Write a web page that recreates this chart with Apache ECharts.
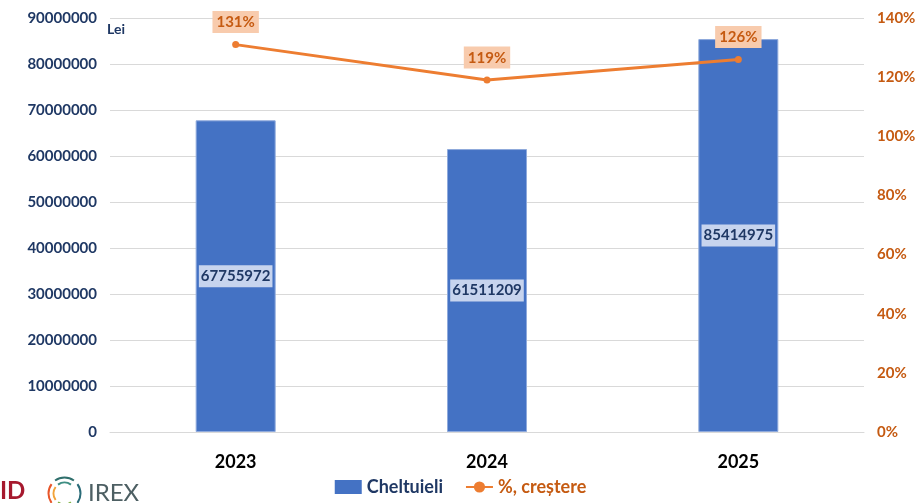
<!DOCTYPE html>
<html>
<head>
<meta charset="utf-8">
<script src="https://cdn.jsdelivr.net/npm/echarts@6/dist/echarts.min.js"></script>
<style>
  html, body { margin: 0; padding: 0; background: #fff; }
  #chart { width: 921px; height: 503px; }
</style>
</head>
<body>
<div id="chart"></div>
<script>
// date
const ani = ['2023', '2024', '2025']
const cheltuieli = [67755972, 61511209, 85414975]
const crestere = [131, 119, 126]

const navy = '#1F3864'
const orange = '#C55A11'
const font = 'Lato, "Open Sans", sans-serif'

const myChart = echarts.init(document.getElementById('chart'))

const options = {
    animation: false,
    textStyle: { fontFamily: font },
    grid: { left: 110, right: 57, top: 18, bottom: 71 },
    legend: {
        bottom: 2,
        left: 'center',
        itemGap: 22,
        itemWidth: 27,
        itemHeight: 14,
        textStyle: { fontSize: 18, fontWeight: 'bold', fontFamily: font },
        data: [
            { name: 'Cheltuieli', icon: 'rect', itemStyle: { borderWidth: 0 }, textStyle: { color: navy } },
            { name: '%, creștere', textStyle: { color: orange } }
        ]
    },
    xAxis: {
        type: 'category',
        data: ani,
        axisLine: { show: true, lineStyle: { color: '#d9d9d9' } },
        axisTick: { show: false },
        axisLabel: { color: '#000', fontSize: 18, fontWeight: 'bold', margin: 21 }
    },
    yAxis: [
        {
            type: 'value',
            min: 0,
            max: 90000000,
            interval: 10000000,
            axisLine: { show: false },
            axisTick: { show: false },
            splitLine: { lineStyle: { color: '#d9d9d9', width: 1 } },
            axisLabel: { color: navy, fontSize: 15, fontWeight: 'bold', margin: 13, formatter: (v) => String(v) }
        },
        {
            type: 'value',
            min: 0,
            max: 140,
            interval: 20,
            axisLine: { show: false },
            axisTick: { show: false },
            splitLine: { show: false },
            axisLabel: { color: orange, fontSize: 15, fontWeight: 'bold', margin: 13, formatter: '{value}%' }
        }
    ],
    series: [
        {
            name: 'Cheltuieli',
            type: 'bar',
            data: cheltuieli,
            barWidth: 80,
            itemStyle: { color: '#4472C4', borderColor: '#8faadc', borderWidth: 1 },
            label: {
                show: true,
                position: 'inside',
                color: navy,
                fontSize: 15,
                fontWeight: 'bold',
                backgroundColor: '#c7d4ee',
                padding: [4, 2, 3, 2]
            }
        },
        {
            name: '%, creștere',
            type: 'line',
            yAxisIndex: 1,
            data: crestere,
            symbol: 'circle',
            symbolSize: 7,
            lineStyle: { color: '#ED7D31', width: 3 },
            itemStyle: { color: '#ED7D31' },
            label: {
                show: true,
                position: 'top',
                distance: 8,
                formatter: '{c}%',
                color: orange,
                fontSize: 15,
                fontWeight: 'bold',
                backgroundColor: '#f8cbad',
                padding: [4, 4, 3, 4]
            }
        }
    ],
    graphic: [
        {
            type: 'text',
            left: 107,
            top: 22,
            style: { text: 'Lei', fill: navy, font: 'bold 14px ' + font }
        },
        {
            type: 'text',
            left: 0,
            top: 479,
            style: { text: 'ID', fill: '#A6192E', font: 'bold 24px ' + font }
        },
        {
            type: 'text',
            left: 88,
            top: 481,
            style: { text: 'IREX', fill: '#4d5f63', font: '24px ' + font }
        },
        {
            type: 'group',
            left: 46,
            top: 475,
            children: [
                { type: 'arc', shape: { cx: 20, cy: 22, r: 16, startAngle: Math.PI * 0.8, endAngle: Math.PI * 1.2 }, style: { stroke: '#e8562a', lineWidth: 2, fill: null } },
                { type: 'arc', shape: { cx: 20, cy: 22, r: 11, startAngle: Math.PI * 0.8, endAngle: Math.PI * 1.2 }, style: { stroke: '#f2a33a', lineWidth: 2, fill: null } },
                { type: 'arc', shape: { cx: 20, cy: 22, r: 16, startAngle: Math.PI * 1.3, endAngle: Math.PI * 1.7 }, style: { stroke: '#2f6f6c', lineWidth: 2, fill: null } },
                { type: 'arc', shape: { cx: 20, cy: 22, r: 11, startAngle: Math.PI * 1.3, endAngle: Math.PI * 1.7 }, style: { stroke: '#3e8e83', lineWidth: 2, fill: null } },
                { type: 'arc', shape: { cx: 20, cy: 22, r: 16, startAngle: Math.PI * 1.8, endAngle: Math.PI * 2.2 }, style: { stroke: '#2a6b78', lineWidth: 2, fill: null } },
                { type: 'arc', shape: { cx: 20, cy: 22, r: 11, startAngle: Math.PI * 0.3, endAngle: Math.PI * 0.7 }, style: { stroke: '#7fb241', lineWidth: 2, fill: null } }
            ]
        }
    ]
}

myChart.setOption(options)
</script>
</body>
</html>
